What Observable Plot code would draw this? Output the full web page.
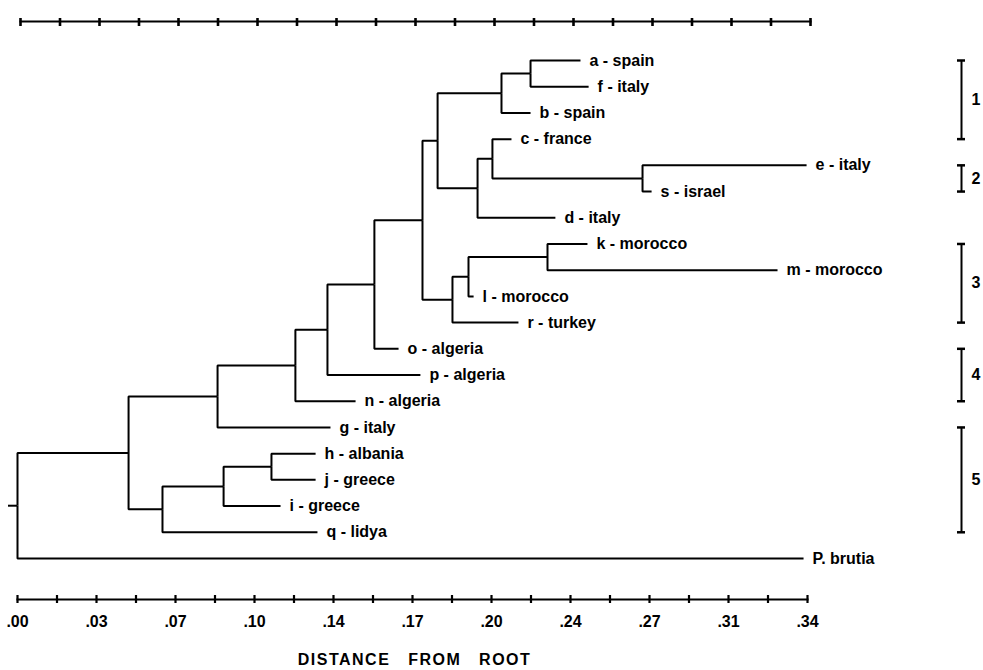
<!DOCTYPE html>
<html>
<head>
<meta charset="utf-8">
<script src="https://cdn.jsdelivr.net/npm/d3@7"></script>
<script src="https://cdn.jsdelivr.net/npm/@observablehq/plot@0.6"></script>
<style>
  html, body { margin: 0; padding: 0; background: #fff; }
  #chart svg { display: block; overflow: visible; }
</style>
</head>
<body>
<div id="chart"></div>
<script>
// ---- Leaves (top to bottom) ----
const leafNames = ["a - spain", "f - italy", "b - spain", "c - france", "e - italy", "s - israel",
  "d - italy", "k - morocco", "m - morocco", "l - morocco", "r - turkey", "o - algeria",
  "p - algeria", "n - algeria", "g - italy", "h - albania", "j - greece", "i - greece",
  "q - lidya", "P. brutia"];
const leafDistance = [0.2423, 0.2458, 0.2208, 0.2126, 0.3396, 0.2729, 0.2315, 0.2453, 0.3271,
  0.1963, 0.2156, 0.1640, 0.1734, 0.1455, 0.1347, 0.1283, 0.1283, 0.1132, 0.1291, 0.3383];
const leafParent = ["n10", "n10", "n9", "n12", "n13", "n13", "n11", "n16", "n16", "n15", "n14",
  "n6", "n5", "n4", "n3", "n19", "n19", "n18", "n17", "n1"];

// ---- Internal nodes ----
const nodeIds = ["n1", "n2", "n3", "n4", "n5", "n6", "n7", "n8", "n9", "n10", "n11", "n12",
  "n13", "n14", "n15", "n16", "n17", "n18", "n19"];
const nodeDistance = [0, 0.0478, 0.0861, 0.1196, 0.1334, 0.1536, 0.1743, 0.1808, 0.2083, 0.2208,
  0.1980, 0.2044, 0.2690, 0.1872, 0.1941, 0.2281, 0.0624, 0.0887, 0.1093];
const nodeParent = [null, "n1", "n2", "n3", "n4", "n5", "n6", "n7", "n8", "n9", "n8", "n11",
  "n12", "n7", "n14", "n15", "n2", "n17", "n18"];

// ---- Groups (right-hand brackets) ----
const groupLabels = ["1", "2", "3", "4", "5"];
const groupFirstLeaf = ["a - spain", "e - italy", "k - morocco", "o - algeria", "g - italy"];
const groupLastLeaf = ["c - france", "s - israel", "r - turkey", "n - algeria", "q - lidya"];

// ---- Axis ----
const allTicks = [0, 0.017, 0.034, 0.051, 0.068, 0.085, 0.102, 0.119, 0.136, 0.153, 0.17,
  0.187, 0.204, 0.221, 0.238, 0.255, 0.272, 0.289, 0.306, 0.323, 0.34];
const majorTicks = [0, 0.034, 0.068, 0.102, 0.136, 0.17, 0.204, 0.238, 0.272, 0.306, 0.34];
const tickLabels = [".00", ".03", ".07", ".10", ".14", ".17", ".20", ".24", ".27", ".31", ".34"];
const axisTitle = "DISTANCE\u00a0\u00a0\u00a0FROM\u00a0\u00a0\u00a0ROOT";

// ---- Build hierarchy ----
const rows = [
  ...nodeIds.map((id, i) => ({id, parent: nodeParent[i], dist: nodeDistance[i]})),
  ...leafNames.map((id, i) => ({id, parent: leafParent[i], dist: leafDistance[i]}))
];
const leafIndex = new Map(leafNames.map((n, i) => [n, i]));
const root = d3.stratify().id(d => d.id).parentId(d => d.parent)(rows);
root.eachAfter(n => {
  n.y = n.children ? d3.mean(n.children, c => c.y) : leafIndex.get(n.id);
});
const links = root.links();
const leaves = root.leaves();
const groups = groupLabels.map((g, i) => ({
  label: g,
  y1: leafIndex.get(groupFirstLeaf[i]),
  y2: leafIndex.get(groupLastLeaf[i])
}));
const labelMap = new Map(majorTicks.map((t, i) => [t, tickLabels[i]]));

const font = "'Liberation Sans', Arial, Helvetica, sans-serif";
const X_END = 0.34;

const chart = Plot.plot({
  width: 983,
  height: 670,
  marginLeft: 17,
  marginRight: 176,
  marginTop: 21,
  marginBottom: 71,
  style: {fontFamily: font, color: "#000", background: "#fff"},
  x: {domain: [0, 0.34], axis: null},
  y: {domain: [0, 19], range: [60, 558], axis: null},
  marks: [
    // top axis (scan is slightly shifted to the right)
    Plot.frame({anchor: "top", stroke: "#000", strokeWidth: 2, dx: 3}),
    Plot.axisX({anchor: "top", ticks: allTicks, tickSize: 8, dy: 4, dx: 3, strokeWidth: 2.6,
      tickFormat: () => "", label: null}),
    // bottom axis
    Plot.frame({anchor: "bottom", stroke: "#000", strokeWidth: 2}),
    Plot.axisX({anchor: "bottom", ticks: allTicks, tickSize: 8, dy: -4, strokeWidth: 2.2,
      tickFormat: () => "", label: null}),
    Plot.axisX({anchor: "bottom", ticks: majorTicks, tickSize: 0, tickPadding: 16,
      tickFormat: d => labelMap.get(d), fontSize: 16, fontWeight: "bold", label: null}),
    Plot.text([axisTitle], {frameAnchor: "bottom", dy: 65, dx: 2, text: d => d,
      fontSize: 16, fontWeight: "bold", fill: "#000"}),
    // tree
    Plot.link(links, {
      x1: d => d.source.data.dist, y1: d => d.source.y,
      x2: d => d.target.data.dist, y2: d => d.target.y,
      curve: "step-before", stroke: "#000", strokeWidth: 2
    }),
    Plot.ruleY([root], {y: d => d.y, x1: 0, x2: 0, insetLeft: -9, stroke: "#000", strokeWidth: 2}),
    Plot.text(leaves, {x: d => d.data.dist, y: d => d.y, text: d => d.id, dx: 9,
      textAnchor: "start", fontSize: 16, fontWeight: "bold", fill: "#000"}),
    // group brackets
    Plot.ruleX(groups, {x: X_END, dx: 154, y1: "y1", y2: "y2", stroke: "#000", strokeWidth: 2}),
    Plot.ruleY(groups, {y: "y1", x1: X_END, x2: X_END, dx: 154, insetLeft: -4, insetRight: -4,
      stroke: "#000", strokeWidth: 2.5}),
    Plot.ruleY(groups, {y: "y2", x1: X_END, x2: X_END, dx: 154, insetLeft: -4, insetRight: -4,
      stroke: "#000", strokeWidth: 2.5}),
    Plot.text(groups, {x: X_END, dx: 164, y: d => (d.y1 + d.y2) / 2, text: "label",
      textAnchor: "start", fontSize: 16, fontWeight: "bold", fill: "#000"})
  ]
});

d3.select(chart).selectAll("text")
  .filter(function () { return this.textContent.startsWith("DISTANCE"); })
  .attr("letter-spacing", "1.5px");

document.getElementById("chart").appendChild(chart);
</script>
</body>
</html>
